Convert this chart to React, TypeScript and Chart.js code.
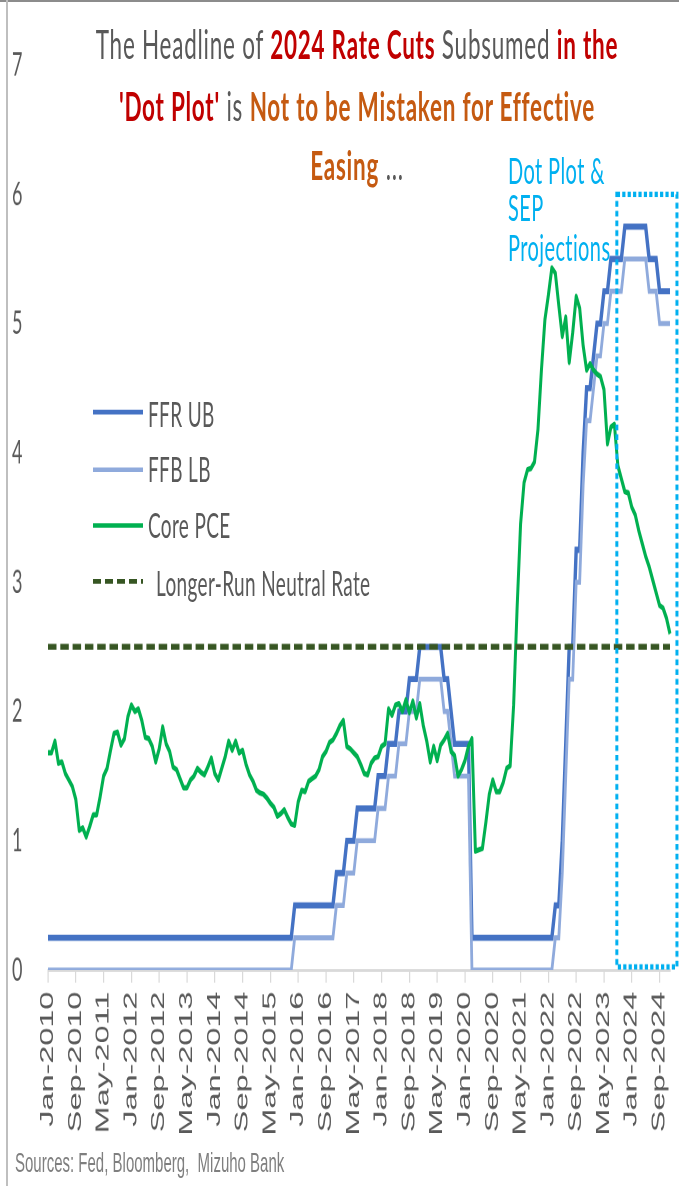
import React, { useEffect, useRef } from 'react';
import { Chart, registerables } from 'chart.js';

Chart.register(...registerables);

// ---------- data ----------
const MONTHS = ['Jan', 'Feb', 'Mar', 'Apr', 'May', 'Jun', 'Jul', 'Aug', 'Sep', 'Oct', 'Nov', 'Dec'];
const YEARS = [2010, 2011, 2012, 2013, 2014, 2015, 2016, 2017, 2018, 2019, 2020, 2021, 2022, 2023, 2024];
const LABELS = YEARS.flatMap((y) => MONTHS.map((m) => `${m}-${y}`));

const X_TICK_LABELS = [
  'Jan-2010', 'Sep-2010', 'May-2011', 'Jan-2012', 'Sep-2012', 'May-2013', 'Jan-2014', 'Sep-2014',
  'May-2015', 'Jan-2016', 'Sep-2016', 'May-2017', 'Jan-2018', 'Sep-2018', 'May-2019', 'Jan-2020',
  'Sep-2020', 'May-2021', 'Jan-2022', 'Sep-2022', 'May-2023', 'Jan-2024', 'Sep-2024',
];

const FFR_UB = [
  0.25, 0.25, 0.25, 0.25, 0.25, 0.25, 0.25, 0.25, 0.25, 0.25, 0.25, 0.25, // 2010
  0.25, 0.25, 0.25, 0.25, 0.25, 0.25, 0.25, 0.25, 0.25, 0.25, 0.25, 0.25, // 2011
  0.25, 0.25, 0.25, 0.25, 0.25, 0.25, 0.25, 0.25, 0.25, 0.25, 0.25, 0.25, // 2012
  0.25, 0.25, 0.25, 0.25, 0.25, 0.25, 0.25, 0.25, 0.25, 0.25, 0.25, 0.25, // 2013
  0.25, 0.25, 0.25, 0.25, 0.25, 0.25, 0.25, 0.25, 0.25, 0.25, 0.25, 0.25, // 2014
  0.25, 0.25, 0.25, 0.25, 0.25, 0.25, 0.25, 0.25, 0.25, 0.25, 0.25, 0.5, // 2015
  0.5, 0.5, 0.5, 0.5, 0.5, 0.5, 0.5, 0.5, 0.5, 0.5, 0.5, 0.75, // 2016
  0.75, 0.75, 1.0, 1.0, 1.0, 1.25, 1.25, 1.25, 1.25, 1.25, 1.25, 1.5, // 2017
  1.5, 1.5, 1.75, 1.75, 1.75, 2.0, 2.0, 2.0, 2.25, 2.25, 2.25, 2.5, // 2018
  2.5, 2.5, 2.5, 2.5, 2.5, 2.5, 2.25, 2.25, 2.0, 1.75, 1.75, 1.75, // 2019
  1.75, 1.75, 0.25, 0.25, 0.25, 0.25, 0.25, 0.25, 0.25, 0.25, 0.25, 0.25, // 2020
  0.25, 0.25, 0.25, 0.25, 0.25, 0.25, 0.25, 0.25, 0.25, 0.25, 0.25, 0.25, // 2021
  0.25, 0.25, 0.5, 0.5, 1.0, 1.75, 2.5, 2.5, 3.25, 3.25, 4.0, 4.5, // 2022
  4.5, 4.75, 5.0, 5.0, 5.25, 5.25, 5.5, 5.5, 5.5, 5.5, 5.75, 5.75, // 2023
  5.75, 5.75, 5.75, 5.75, 5.75, 5.5, 5.5, 5.5, 5.25, 5.25, 5.25, 5.25, // 2024
];

const FFR_LB = [
  0, 0, 0, 0, 0, 0, 0, 0, 0, 0, 0, 0, // 2010
  0, 0, 0, 0, 0, 0, 0, 0, 0, 0, 0, 0, // 2011
  0, 0, 0, 0, 0, 0, 0, 0, 0, 0, 0, 0, // 2012
  0, 0, 0, 0, 0, 0, 0, 0, 0, 0, 0, 0, // 2013
  0, 0, 0, 0, 0, 0, 0, 0, 0, 0, 0, 0, // 2014
  0, 0, 0, 0, 0, 0, 0, 0, 0, 0, 0, 0.25, // 2015
  0.25, 0.25, 0.25, 0.25, 0.25, 0.25, 0.25, 0.25, 0.25, 0.25, 0.25, 0.5, // 2016
  0.5, 0.5, 0.75, 0.75, 0.75, 1.0, 1.0, 1.0, 1.0, 1.0, 1.0, 1.25, // 2017
  1.25, 1.25, 1.5, 1.5, 1.5, 1.75, 1.75, 1.75, 2.0, 2.0, 2.0, 2.25, // 2018
  2.25, 2.25, 2.25, 2.25, 2.25, 2.25, 2.0, 2.0, 1.75, 1.5, 1.5, 1.5, // 2019
  1.5, 1.5, 0, 0, 0, 0, 0, 0, 0, 0, 0, 0, // 2020
  0, 0, 0, 0, 0, 0, 0, 0, 0, 0, 0, 0, // 2021
  0, 0, 0.25, 0.25, 0.75, 1.5, 2.25, 2.25, 3.0, 3.0, 3.75, 4.25, // 2022
  4.25, 4.5, 4.75, 4.75, 5.0, 5.0, 5.25, 5.25, 5.25, 5.25, 5.5, 5.5, // 2023
  5.5, 5.5, 5.5, 5.5, 5.5, 5.25, 5.25, 5.25, 5.0, 5.0, 5.0, 5.0, // 2024
];

const CORE_PCE = [
  1.68, 1.68, 1.77, 1.60, 1.61, 1.52, 1.47, 1.42, 1.32, 1.08, 1.10, 1.03, // 2010
  1.11, 1.20, 1.20, 1.34, 1.50, 1.56, 1.70, 1.83, 1.84, 1.74, 1.79, 1.96, // 2011
  2.05, 2.00, 2.02, 1.93, 1.80, 1.79, 1.73, 1.61, 1.71, 1.88, 1.75, 1.69, // 2012
  1.57, 1.55, 1.48, 1.41, 1.41, 1.47, 1.50, 1.56, 1.53, 1.51, 1.57, 1.64, // 2013
  1.52, 1.47, 1.56, 1.65, 1.77, 1.70, 1.77, 1.68, 1.70, 1.59, 1.51, 1.46, // 2014
  1.39, 1.37, 1.36, 1.33, 1.29, 1.26, 1.19, 1.21, 1.24, 1.18, 1.13, 1.12, // 2015
  1.30, 1.39, 1.38, 1.46, 1.48, 1.50, 1.55, 1.65, 1.69, 1.76, 1.78, 1.83, // 2016
  1.89, 1.93, 1.73, 1.71, 1.68, 1.65, 1.59, 1.52, 1.51, 1.60, 1.64, 1.65, // 2017
  1.73, 1.75, 2.02, 1.97, 2.05, 2.06, 2.00, 2.09, 1.99, 2.08, 1.95, 2.06, // 2018
  1.89, 1.77, 1.61, 1.73, 1.62, 1.74, 1.78, 1.83, 1.69, 1.66, 1.50, 1.55, // 2019
  1.62, 1.73, 1.79, 0.92, 0.93, 0.94, 1.14, 1.36, 1.47, 1.38, 1.38, 1.45, // 2020
  1.56, 1.58, 2.05, 2.80, 3.45, 3.77, 3.87, 3.88, 3.93, 4.18, 4.64, 5.03, // 2021
  5.22, 5.43, 5.39, 5.14, 4.90, 5.05, 4.70, 4.93, 5.21, 5.12, 4.83, 4.64, // 2022
  4.69, 4.64, 4.61, 4.59, 4.49, 4.07, 4.20, 4.22, 3.90, 3.80, 3.70, 3.69, // 2023
  3.58, 3.52, 3.40, 3.30, 3.20, 3.12, 3.02, 2.92, 2.82, 2.80, 2.72, 2.60, // 2024
];

const NEUTRAL_RATE = 2.5;

// annotation: dotted "Dot Plot & SEP Projections" frame (in axis units)
const PROJECTION_BOX = { fromIndex: 163.7, toIndex: 181.0, yMin: 0, yMax: 6 };

const SERIES_STYLE = {
  ub: { label: 'FFR UB', color: '#4472C4', width: 3.4 },
  lb: { label: 'FFB LB', color: '#8FAADC', width: 2.8 },
  pce: { label: 'Core PCE', color: '#00B050', width: 3 },
  neutral: { label: 'Longer-Run Neutral Rate', color: '#375623', width: 3.2, dash: [8.5, 3.8] },
};

// the reference picture is vertically stretched
const BASE_H = 659;
const STRETCH = 1186 / BASE_H;

const TEXT_GRAY = '#595959';
const DARK_RED = '#C00000';
const ORANGE = '#C55A11';
const CYAN = '#00B0F0';

const projectionBoxPlugin = {
  id: 'projectionBox',
  afterDatasetsDraw(chart: any) {
    const { ctx, scales } = chart;
    const x = scales.x;
    const y = scales.y;
    const l = x.getPixelForValue(PROJECTION_BOX.fromIndex);
    const r = x.getPixelForValue(PROJECTION_BOX.toIndex);
    const t = y.getPixelForValue(PROJECTION_BOX.yMax);
    const b = y.getPixelForValue(PROJECTION_BOX.yMin) - 1.7;
    ctx.save();
    ctx.strokeStyle = CYAN;
    ctx.lineWidth = 3;
    ctx.setLineDash([3.2, 2.2]);
    ctx.strokeRect(l, t, r - l, b - t);
    ctx.restore();
  },
};

export default function App() {
  const canvasRef = useRef<HTMLCanvasElement>(null);

  useEffect(() => {
    const canvas = canvasRef.current;
    if (!canvas) return;
    const chart = new Chart(canvas, {
      type: 'line',
      data: {
        labels: LABELS,
        datasets: [
          {
            label: SERIES_STYLE.neutral.label,
            data: [
              { x: LABELS[0], y: NEUTRAL_RATE },
              { x: LABELS[LABELS.length - 1], y: NEUTRAL_RATE },
            ] as any,
            borderColor: SERIES_STYLE.neutral.color,
            borderWidth: SERIES_STYLE.neutral.width,
            borderDash: SERIES_STYLE.neutral.dash,
            pointRadius: 0,
            order: 0,
          },
          {
            label: SERIES_STYLE.pce.label,
            data: CORE_PCE,
            borderColor: SERIES_STYLE.pce.color,
            borderWidth: SERIES_STYLE.pce.width,
            pointRadius: 0,
            borderJoinStyle: 'round',
            order: 1,
          },
          {
            label: SERIES_STYLE.lb.label,
            data: FFR_LB,
            borderColor: SERIES_STYLE.lb.color,
            borderWidth: SERIES_STYLE.lb.width,
            pointRadius: 0,
            order: 2,
          },
          {
            label: SERIES_STYLE.ub.label,
            data: FFR_UB,
            borderColor: SERIES_STYLE.ub.color,
            borderWidth: SERIES_STYLE.ub.width,
            pointRadius: 0,
            order: 3,
          },
        ],
      },
      options: {
        animation: false,
        responsive: false,
        devicePixelRatio: 2,
        layout: { padding: { left: 12, right: 9, top: 36.1, bottom: 0 } },
        elements: { line: { tension: 0 } },
        plugins: {
          legend: { display: false },
          tooltip: { enabled: false },
          title: { display: false },
        },
        scales: {
          x: {
            type: 'category',
            offset: false,
            grid: {
              display: true,
              drawOnChartArea: false,
              drawTicks: true,
              tickLength: 7,
              color: '#D9D9D9',
              lineWidth: 1.2,
            },
            border: { display: true, color: '#D9D9D9', width: 1.5 },
            ticks: {
              autoSkip: false,
              minRotation: 90,
              maxRotation: 90,
              padding: 5,
              color: TEXT_GRAY,
              font: { family: '"Liberation Sans", Arial, sans-serif', size: 18 },
              callback: function (this: any, value: any) {
                return this.getLabelForValue(value);
              },
            },
            afterBuildTicks: (scale: any) => {
              scale.ticks = scale.ticks.filter((t: any) => X_TICK_LABELS.includes(LABELS[t.value]));
            },
            afterFit: (scale: any) => {
              scale.height = BASE_H - 539;
              scale.paddingLeft = 0;
              scale.paddingRight = 0;
            },
          },
          y: {
            min: 0,
            max: 7,
            grid: { display: false },
            border: { display: false },
            ticks: {
              stepSize: 1,
              color: TEXT_GRAY,
              crossAlign: 'far',
              padding: 0,
              font: { family: 'Lato, sans-serif', size: 18 },
            },
            afterFit: (scale: any) => {
              scale.width = 36;
            },
          },
        },
      },
      plugins: [projectionBoxPlugin],
    });
    return () => chart.destroy();
  }, []);

  const legendRows = [SERIES_STYLE.ub, SERIES_STYLE.lb, SERIES_STYLE.pce, SERIES_STYLE.neutral];

  return (
    <div
      style={{
        position: 'fixed',
        left: 0,
        top: 0,
        width: 679,
        height: 1186,
        overflow: 'hidden',
        background: '#ffffff',
      }}
    >
      <div
        style={{
          position: 'absolute',
          left: 0,
          top: 0,
          width: 679,
          height: BASE_H,
          transform: `scaleY(${STRETCH})`,
          transformOrigin: '0 0',
        }}
      >
        <canvas
          ref={canvasRef}
          width={679}
          height={BASE_H}
          style={{ display: 'block', width: 679, height: BASE_H }}
        />

        {/* title */}
        <div
          style={{
            position: 'absolute',
            left: 7,
            top: 8.4,
            width: 700,
            textAlign: 'center',
            fontFamily: 'Lato, sans-serif',
            fontSize: 22.5,
            letterSpacing: 0.75,
            lineHeight: '33.3px',
            color: TEXT_GRAY,
            whiteSpace: 'nowrap',
          }}
        >
          <div>
            The Headline of <b style={{ color: DARK_RED }}>2024 Rate Cuts</b> Subsumed{' '}
            <b style={{ color: DARK_RED }}>in the</b>
          </div>
          <div>
            <b style={{ color: DARK_RED }}>'Dot Plot'</b> is{' '}
            <b style={{ color: ORANGE }}>Not to be Mistaken for Effective</b>
          </div>
          <div>
            <b style={{ color: ORANGE }}>Easing</b> ...
          </div>
        </div>

        {/* projection label */}
        <div
          style={{
            position: 'absolute',
            left: 508,
            top: 83.6,
            fontFamily: 'Lato, sans-serif',
            fontSize: 20,
            letterSpacing: 0.4,
            lineHeight: '21.7px',
            color: CYAN,
            whiteSpace: 'nowrap',
          }}
        >
          <div>Dot Plot &amp;</div>
          <div>SEP</div>
          <div>Projections</div>
        </div>

        {/* legend */}
        {legendRows.map((s, i) => (
          <div
            key={s.label}
            style={{
              position: 'absolute',
              left: 93,
              top: 229.1 + i * 31.4 - 12,
              height: 24,
              display: 'flex',
              alignItems: 'center',
              whiteSpace: 'nowrap',
            }}
          >
            <svg width={52} height={24} style={{ display: 'block' }}>
              <line
                x1={0}
                y1={12}
                x2={50}
                y2={12}
                stroke={s.color}
                strokeWidth={2.6}
                strokeDasharray={(s as any).dash ? '8 4' : undefined}
              />
            </svg>
            <span
              style={{
                marginLeft: (s as any).dash ? 11 : 3,
                fontFamily: 'Lato, sans-serif',
                fontSize: 19,
                letterSpacing: 0.35,
                color: TEXT_GRAY,
              }}
            >
              {s.label}
            </span>
          </div>
        ))}

        {/* source */}
        <div
          style={{
            position: 'absolute',
            left: 15,
            top: 637,
            fontFamily: '"Liberation Sans", Arial, sans-serif',
            fontSize: 15,
            lineHeight: '18px',
            color: '#7F7F7F',
            whiteSpace: 'pre',
          }}
        >
          {'Sources: Fed, Bloomberg,  Mizuho Bank'}
        </div>
      </div>

      {/* picture frame lines */}
      <div style={{ position: 'absolute', left: 0, top: 0, width: 679, height: 2, background: '#8C8C8C' }} />
      <div style={{ position: 'absolute', left: 6, top: 0, width: 1.5, height: 1186, background: '#BFBFBF' }} />
    </div>
  );
}
